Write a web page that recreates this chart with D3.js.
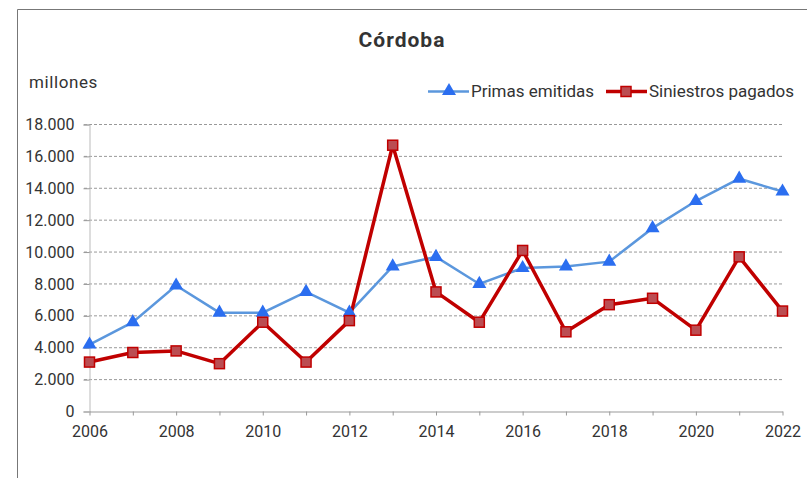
<!DOCTYPE html>
<html>
<head>
<meta charset="utf-8">
<script src="https://cdn.jsdelivr.net/npm/d3@7"></script>
<style>
  body { margin: 0; background: #fff; }
  svg text { font-family: Roboto, "Liberation Sans", sans-serif; fill: #333; }
</style>
</head>
<body>
<svg id="chart" width="807" height="478"></svg>
<script>
// years and series (millones)
const years = [2006, 2007, 2008, 2009, 2010, 2011, 2012, 2013, 2014, 2015, 2016, 2017, 2018, 2019, 2020, 2021, 2022];
const primas = [4200, 5600, 7900, 6200, 6200, 7500, 6200, 9100, 9700, 8000, 9000, 9100, 9400, 11500, 13200, 14600, 13800];
const siniestros = [3100, 3700, 3800, 3000, 5600, 3100, 5700, 16700, 7500, 5600, 10100, 5000, 6700, 7100, 5100, 9700, 6300];
const yTicks = [0, 2000, 4000, 6000, 8000, 10000, 12000, 14000, 16000, 18000];
const xTickLabels = [2006, 2008, 2010, 2012, 2014, 2016, 2018, 2020, 2022];

const svg = d3.select("#chart");

///// frame /////
svg.append("path")
    .attr("d", "M17.5,478 V9.5 H807")
    .attr("fill", "none")
    .attr("stroke", "#777")
    .attr("stroke-width", 1);

// title
svg.append("text")
    .attr("x", 402)
    .attr("y", 47)
    .attr("text-anchor", "middle")
    .style("font-size", "21px")
    .style("font-weight", "bold")
    .style("letter-spacing", "1px")
    .text("Córdoba");

svg.append("text")
    .attr("x", 29)
    .attr("y", 88)
    .style("font-size", "17px")
    .style("letter-spacing", "0.6px")
    .text("millones");

///// scales /////
const x = d3.scaleLinear().domain([2006, 2022]).range([89.5, 782.5]);
const y = d3.scaleLinear().domain([0, 18000]).range([411.5, 124.5]);
const fmt = d3.formatLocale({decimal: ",", thousands: ".", grouping: [3], currency: ["", ""]}).format(",");

// gridlines
svg.append("g")
    .selectAll("line")
    .data(yTicks.slice(1))
    .enter()
    .append("line")
    .attr("x1", 84)
    .attr("x2", 782)
    .attr("y1", d => y(d))
    .attr("y2", d => y(d))
    .attr("stroke", "#999")
    .attr("stroke-dasharray", "3,2");

// y axis
const yAxis = svg.append("g")
    .attr("transform", "translate(89.5,0)")
    .call(d3.axisLeft(y).tickValues(yTicks).tickFormat(fmt).tickSize(6).tickPadding(9));
yAxis.select(".domain").attr("stroke", "#bbb");
yAxis.selectAll(".tick line").attr("stroke", "#999");
yAxis.selectAll("text").style("font-size", "16px").attr("fill", "#333");

// x axis
const xAxis = svg.append("g")
    .attr("transform", "translate(0,411.5)")
    .call(d3.axisBottom(x).tickValues(years).tickFormat(d => xTickLabels.includes(d) ? d : "").tickSize(4).tickPadding(10).tickSizeOuter(0));
xAxis.select(".domain").attr("stroke", "#999");
xAxis.selectAll(".tick line").attr("stroke", "#999");
xAxis.selectAll("text").style("font-size", "16px").attr("fill", "#333");

///// lines /////
const line = d3.line().x((d, i) => x(years[i])).y(d => y(d));

svg.append("path")
    .datum(primas)
    .attr("d", line)
    .attr("fill", "none")
    .attr("stroke", "#5b97dd")
    .attr("stroke-width", 2.5);

svg.append("path")
    .datum(siniestros)
    .attr("d", line)
    .attr("fill", "none")
    .attr("stroke", "#c00000")
    .attr("stroke-width", 3.5)
    .attr("stroke-linejoin", "round");

const tri = d3.symbol().type(d3.symbolTriangle).size(85);

svg.append("g")
    .selectAll("path")
    .data(primas)
    .enter()
    .append("path")
    .attr("d", tri)
    .attr("transform", (d, i) => "translate(" + x(years[i]) + "," + y(d) + ")")
    .attr("fill", "#2b6ef0");

svg.append("g")
    .selectAll("rect")
    .data(siniestros)
    .enter()
    .append("rect")
    .attr("x", (d, i) => x(years[i]) - 5)
    .attr("y", d => y(d) - 5)
    .attr("width", 10)
    .attr("height", 10)
    .attr("fill", "#bb4d52")
    .attr("stroke", "#c00000")
    .attr("stroke-width", 1.5);

///// legend /////
const leg = svg.append("g");
leg.append("line").attr("x1", 428).attr("x2", 469).attr("y1", 91.5).attr("y2", 91.5)
    .attr("stroke", "#5b97dd").attr("stroke-width", 2.5);
leg.append("path").attr("d", tri).attr("transform", "translate(449,91)").attr("fill", "#2b6ef0");
leg.append("text").attr("x", 471).attr("y", 97).style("font-size", "17px").text("Primas emitidas");

leg.append("line").attr("x1", 606).attr("x2", 647).attr("y1", 91.5).attr("y2", 91.5)
    .attr("stroke", "#c00000").attr("stroke-width", 3.5);
leg.append("rect").attr("x", 621).attr("y", 86.5).attr("width", 10).attr("height", 10)
    .attr("fill", "#bb4d52").attr("stroke", "#c00000").attr("stroke-width", 1.5);
leg.append("text").attr("x", 649).attr("y", 97).style("font-size", "17px").text("Siniestros pagados");
</script>
</body>
</html>
